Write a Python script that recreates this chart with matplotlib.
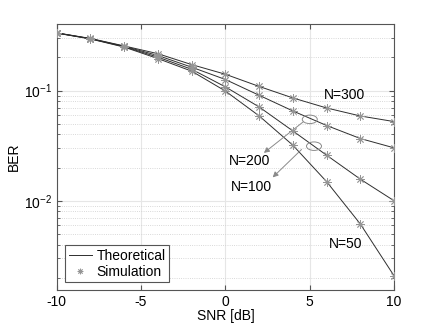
import matplotlib
matplotlib.use("Agg")
import matplotlib.pyplot as plt
from matplotlib.patches import Ellipse
from matplotlib.transforms import ScaledTranslation

plt.rcParams["font.family"] = ["Liberation Sans", "DejaVu Sans"]
plt.rcParams["font.size"] = 10

# SNR grid and BER (same values used for line and markers)
snr_db = [-10, -8, -6, -4, -2, 0, 2, 4, 6, 8, 10]
ber_n300 = [0.334, 0.297, 0.254, 0.216, 0.172, 0.1406, 0.109, 0.0857, 0.0695, 0.0588, 0.0523]
ber_n200 = [0.333, 0.296, 0.252, 0.208, 0.163, 0.126, 0.0906, 0.0653, 0.0482, 0.0367, 0.0302]
ber_n100 = [0.333, 0.295, 0.250, 0.201, 0.156, 0.108, 0.071, 0.043, 0.0259, 0.0157, 0.0100]
ber_n50 = [0.332, 0.294, 0.248, 0.195, 0.150, 0.099, 0.0589, 0.0319, 0.0149, 0.00615, 0.00208]

curves = [ber_n300, ber_n200, ber_n100, ber_n50]

fig = plt.figure(figsize=(4.36, 3.27), dpi=100)
ax = fig.add_axes([0.130, 0.113, 0.774, 0.813])

star = (8, 2, 0)
for ber in curves:
    ax.plot(snr_db, ber, "-", color="#2e2e2e", lw=0.7, zorder=3)
    ax.plot(snr_db, ber, ls="none", marker=star, ms=6, mew=0.6,
            color="#959595", zorder=4)

ax.set_yscale("log")
ax.set_xlim(-10, 10)
ax.set_ylim(1.55e-3, 0.4)
ax.set_xticks([-10, -5, 0, 5, 10])
ax.set_xticklabels(["-10", "-5", "0", "5", "10"])

ax.grid(True, which="major", color="#e6e6e6", lw=0.8, ls="-", zorder=0)
ax.grid(True, which="minor", axis="y", color="#cccccc", lw=0.6, ls=":", zorder=0)
ax.tick_params(which="both", direction="in", top=True, right=True,
               color="#555555", labelsize=10)
ax.tick_params(which="major", length=3.5)
ax.tick_params(which="minor", length=2.5)
for s in ax.spines.values():
    s.set_color("#555555")
    s.set_linewidth(0.8)

ax.set_xlabel("SNR [dB]", labelpad=0)
ax.set_ylabel("BER", labelpad=2)

# labels
ax.text(7.08, 0.092, "N=300", ha="center", va="center")
ax.text(7.12, 0.00406, "N=50", ha="center", va="center")
ax.text(1.46, 0.0230, "N=200", ha="center", va="center")
ax.text(1.55, 0.01334, "N=100", ha="center", va="center")

# ellipses with arrows
for cx, cy in [(5.0, 0.0548), (5.25, 0.0313)]:
    trans = fig.dpi_scale_trans + ScaledTranslation(cx, cy, ax.transData)
    ax.add_patch(Ellipse((0, 0), 0.15, 0.085, transform=trans, fill=False,
                         ec="#8a8a8a", lw=0.7, zorder=5))

arrows = [((4.61, 0.052), (2.28, 0.0272)), ((4.51, 0.0292), (2.80, 0.0163))]
for tail, head in arrows:
    ax.annotate("", xy=head, xytext=tail,
                arrowprops=dict(arrowstyle="-|>", color="#8a8a8a", lw=0.7,
                                mutation_scale=8, shrinkA=0, shrinkB=0))

h_line, = ax.plot([], [], "-", color="#2e2e2e", lw=0.7)
h_mark, = ax.plot([], [], ls="none", marker=star, ms=4, mew=0.6, color="#959595")
leg = ax.legend([h_line, h_mark], ["Theoretical", "Simulation"], loc="lower left",
                bbox_to_anchor=(0.025, 0.03), fancybox=False, framealpha=1,
                edgecolor="#555555", handlelength=1.7, handletextpad=0.3,
                borderpad=0.25, labelspacing=0.15, borderaxespad=0)
leg.get_frame().set_linewidth(0.8)

fig.savefig("out.png", dpi=100)
